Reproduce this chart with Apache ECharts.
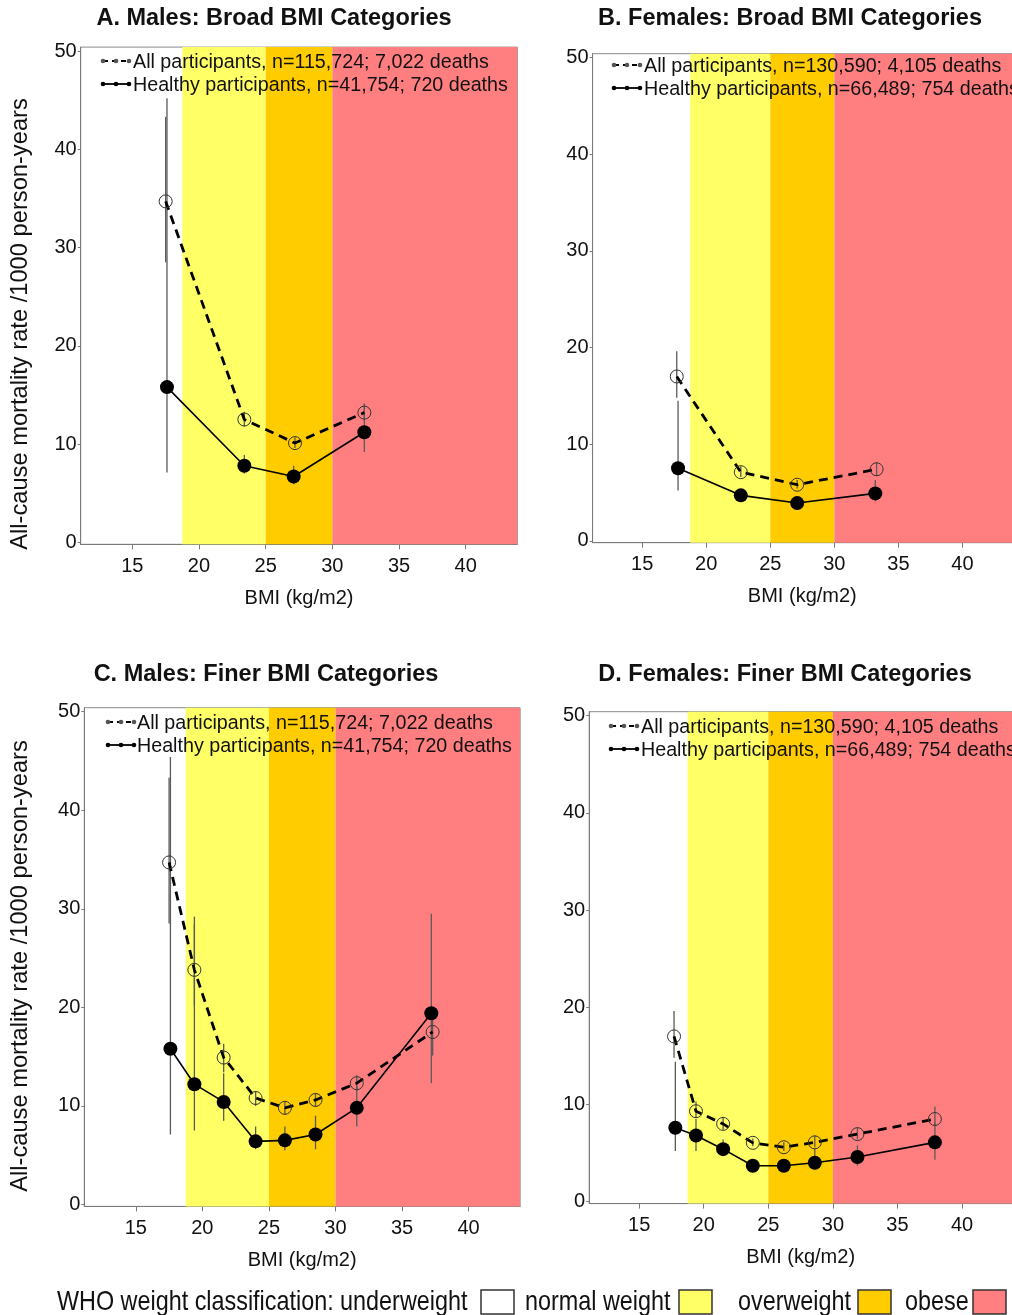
<!DOCTYPE html>
<html>
<head>
<meta charset="utf-8">
<script src="https://cdn.jsdelivr.net/npm/echarts@6/dist/echarts.min.js"></script>
<style>
  html, body { margin: 0; padding: 0; background: #fff; }
  #chart { width: 1012px; height: 1315px; }
</style>
</head>
<body>
<div id="chart"></div>
<script>
// ---------------- DATA ----------------
const xTicks = [15, 20, 25, 30, 35, 40];
const yTicks = [0, 10, 20, 30, 40, 50];
const X_MIN = 11.13, X_MAX = 43.87, Y_MIN = -0.2, Y_MAX = 50.4;

// WHO classification bands (BMI start, end)
const bandStart = [18.75, 25, 30];
const bandEnd = [25, 30, X_MAX];
const bandNames = ['normal weight', 'overweight', 'obese'];

const titles = [
  'A. Males: Broad BMI Categories',
  'B. Females: Broad BMI Categories',
  'C. Males: Finer BMI Categories',
  'D. Females: Finer BMI Categories'
];
const legendAll = [
  'All participants, n=115,724; 7,022 deaths',
  'All participants, n=130,590; 4,105 deaths',
  'All participants, n=115,724; 7,022 deaths',
  'All participants, n=130,590; 4,105 deaths'
];
const legendHealthy = [
  'Healthy participants, n=41,754; 720 deaths',
  'Healthy participants, n=66,489; 754 deaths',
  'Healthy participants, n=41,754; 720 deaths',
  'Healthy participants, n=66,489; 754 deaths'
];
const yTitle = 'All-cause mortality rate /1000 person-years';
const xTitle = 'BMI (kg/m2)';

// Panel A: males, broad
const aAllX = [17.5, 23.4, 27.2, 32.4];
const aAllY = [34.7, 12.5, 10.1, 13.2];
const aAllLo = [28.5, 11.8, 9.6, 12.4];
const aAllHi = [43.3, 13.3, 10.7, 14.1];
const aHeaX = [17.6, 23.4, 27.1, 32.4];
const aHeaY = [15.8, 7.8, 6.7, 11.2];
const aHeaLo = [7.1, 7.0, 5.9, 9.2];
const aHeaHi = [45.2, 8.9, 7.8, 14.1];

// Panel B: females, broad
const bAllX = [17.7, 22.7, 27.1, 33.3];
const bAllY = [17.0, 7.1, 5.8, 7.4];
const bAllLo = [14.8, 6.6, 5.4, 6.7];
const bAllHi = [19.6, 7.7, 6.3, 8.1];
const bHeaX = [17.8, 22.7, 27.1, 33.2];
const bHeaY = [7.5, 4.7, 3.9, 4.9];
const bHeaLo = [5.2, 4.2, 3.5, 4.1];
const bHeaHi = [14.5, 5.3, 4.4, 6.3];

// Panel C: males, finer
const cAllX = [17.5, 19.4, 21.6, 24.0, 26.2, 28.5, 31.6, 37.3];
const cAllY = [34.7, 23.8, 14.9, 10.8, 9.8, 10.6, 12.3, 17.5];
const cAllLo = [28.5, 20.2, 13.4, 10.0, 9.1, 9.9, 11.5, 15.1];
const cAllHi = [43.3, 28.4, 16.3, 11.5, 10.5, 11.3, 13.1, 20.0];
const cHeaX = [17.6, 19.4, 21.6, 24.0, 26.2, 28.5, 31.6, 37.2];
const cHeaY = [15.8, 12.2, 10.4, 6.4, 6.5, 7.1, 9.8, 19.4];
const cHeaLo = [7.1, 7.5, 8.5, 5.6, 5.5, 5.6, 7.9, 12.3];
const cHeaHi = [45.4, 29.2, 13.3, 7.9, 7.9, 9.0, 12.0, 29.5];

// Panel D: females, finer
const dAllX = [17.7, 19.4, 21.5, 23.8, 26.2, 28.6, 31.9, 37.9];
const dAllY = [17.0, 9.3, 8.0, 6.05, 5.6, 6.1, 6.95, 8.5];
const dAllLo = [14.8, 8.6, 7.4, 5.7, 5.2, 5.6, 6.4, 7.8];
const dAllHi = [19.6, 10.3, 8.6, 6.5, 6.1, 6.8, 7.6, 9.8];
const dHeaX = [17.8, 19.4, 21.5, 23.8, 26.2, 28.6, 31.9, 37.9];
const dHeaY = [7.6, 6.8, 5.4, 3.7, 3.7, 4.0, 4.6, 6.1];
const dHeaLo = [5.2, 5.2, 4.8, 3.4, 3.4, 3.7, 3.7, 4.3];
const dHeaHi = [14.4, 8.5, 6.4, 4.1, 4.1, 5.5, 5.8, 8.2];

const whoLabels = ['WHO weight classification: underweight', 'normal weight', 'overweight', 'obese'];

// ---------------- LAYOUT / STYLE ----------------
const FONT = '"Liberation Sans", Arial, sans-serif';
const bandColors = ['#FFFF66', '#FFCC00', '#FF7F80'];
const whoColors = ['#FFFFFF', '#FFFF66', '#FFCC00', '#FF7F80'];

const panels = [
  { grid: { left: 80.7, top: 47.1, width: 436.6, height: 497.2 },
    all: [aAllX, aAllY, aAllLo, aAllHi], hea: [aHeaX, aHeaY, aHeaLo, aHeaHi],
    title: [274, 19], legIcon: 103, legText: 133, legY: [63, 86], yTitle: [20, 324] },
  { grid: { left: 592.6, top: 53.7, width: 428.8, height: 489 },
    all: [bAllX, bAllY, bAllLo, bAllHi], hea: [bHeaX, bHeaY, bHeaLo, bHeaHi],
    title: [790, 19], legIcon: 614, legText: 644, legY: [67, 90] },
  { grid: { left: 84.3, top: 707.7, width: 435.8, height: 498.7 },
    all: [cAllX, cAllY, cAllLo, cAllHi], hea: [cHeaX, cHeaY, cHeaLo, cHeaHi],
    title: [266, 675], legIcon: 108, legText: 137, legY: [724, 747], yTitle: [20, 966] },
  { grid: { left: 589.2, top: 711.7, width: 430, height: 491.9 },
    all: [dAllX, dAllY, dAllLo, dAllHi], hea: [dHeaX, dHeaY, dHeaLo, dHeaHi],
    title: [785, 675], legIcon: 611, legText: 641, legY: [728, 751] }
];

const zip = (xs, ys) => xs.map((x, i) => [x, ys[i]]);
const zip3 = (xs, lo, hi) => xs.map((x, i) => [x, lo[i], hi[i]]);

const grids = [], xAxes = [], yAxes = [], series = [], graphics = [];

panels.forEach((p, k) => {
  grids.push(Object.assign({ show: true, borderColor: '#8a8a8a', borderWidth: 1, backgroundColor: '#fff' }, p.grid));
  xAxes.push({
    type: 'value', gridIndex: k, min: X_MIN, max: X_MAX,
    axisLine: { show: true, onZero: false, lineStyle: { color: '#7a7a7a', width: 1 } },
    axisTick: { show: true, length: 5, customValues: xTicks, lineStyle: { color: '#7a7a7a' } },
    axisLabel: { customValues: xTicks, color: '#111', fontSize: 20, fontFamily: FONT, margin: 12 },
    splitLine: { show: false },
    name: xTitle, nameLocation: 'middle', nameGap: 44,
    nameTextStyle: { color: '#111', fontSize: 20, fontFamily: FONT }
  });
  yAxes.push({
    type: 'value', gridIndex: k, min: Y_MIN, max: Y_MAX,
    axisLine: { show: true, onZero: false, lineStyle: { color: '#7a7a7a', width: 1 } },
    axisTick: { show: true, length: 3, customValues: yTicks, lineStyle: { color: '#7a7a7a' } },
    axisLabel: { customValues: yTicks, color: '#111', fontSize: 20, fontFamily: FONT, margin: 4 },
    splitLine: { show: false }
  });

  // background bands
  series.push({
    type: 'custom', xAxisIndex: k, yAxisIndex: k, z: 1, silent: true,
    data: bandStart.map((s, i) => [s, bandEnd[i], i]),
    renderItem: (params, api) => {
      const p0 = api.coord([api.value(0), Y_MAX]);
      const p1 = api.coord([api.value(1), Y_MIN]);
      return { type: 'rect', shape: { x: p0[0], y: p0[1], width: p1[0] - p0[0], height: p1[1] - p0[1] },
               style: { fill: bandColors[api.value(2)] } };
    }
  });

  // error bars
  [p.all, p.hea].forEach((d) => {
    series.push({
      type: 'custom', xAxisIndex: k, yAxisIndex: k, z: 3, silent: true,
      data: zip3(d[0], d[2], d[3]),
      renderItem: (params, api) => {
        const a = api.coord([api.value(0), api.value(1)]);
        const b = api.coord([api.value(0), api.value(2)]);
        return { type: 'line', shape: { x1: a[0], y1: a[1], x2: b[0], y2: b[1] },
                 style: { stroke: '#5a5a5a', lineWidth: 1.3 } };
      }
    });
  });

  // all participants: dashed line, open circles
  series.push({
    type: 'line', xAxisIndex: k, yAxisIndex: k, z: 4, name: legendAll[k],
    data: zip(p.all[0], p.all[1]),
    symbol: 'circle', symbolSize: 13,
    itemStyle: { color: 'rgba(0,0,0,0)', borderColor: '#333', borderWidth: 1 },
    lineStyle: { color: '#000', width: 2.8, type: [9, 6] },
    animation: false
  });
  // healthy participants: solid line, filled circles
  series.push({
    type: 'line', xAxisIndex: k, yAxisIndex: k, z: 5, name: legendHealthy[k],
    data: zip(p.hea[0], p.hea[1]),
    symbol: 'circle', symbolSize: 14,
    itemStyle: { color: '#000' },
    lineStyle: { color: '#000', width: 1.6 },
    animation: false
  });

  // titles
  graphics.push({ type: 'text', x: p.title[0], y: p.title[1], z: 20,
    style: { text: titles[k], font: 'bold 23.5px ' + FONT, fill: '#111', textAlign: 'center', textVerticalAlign: 'middle' } });

  // in-plot legend
  const ix = p.legIcon;
  [0, 1].forEach((r) => {
    const y = p.legY[r] - 2;
    graphics.push({ type: 'line', z: 20, shape: { x1: ix, y1: y, x2: ix + 26, y2: y },
      style: { stroke: '#000', lineWidth: r === 0 ? 2 : 1.8, lineDash: r === 0 ? [5, 4] : null } });
    [0, 13, 26].forEach((dx) => {
      graphics.push({ type: 'circle', z: 21, shape: { cx: ix + dx, cy: y, r: 2.3 },
        style: { fill: r === 0 ? '#555' : '#000' } });
    });
    graphics.push({ type: 'text', x: p.legText, y: p.legY[r], z: 20,
      style: { text: r === 0 ? legendAll[k] : legendHealthy[k], font: '19.7px ' + FONT, fill: '#111',
               textAlign: 'left', textVerticalAlign: 'middle' } });
  });

  if (p.yTitle) {
    graphics.push({ type: 'text', x: p.yTitle[0], y: p.yTitle[1], rotation: Math.PI / 2, z: 20,
      style: { text: yTitle, font: '23.7px ' + FONT, fill: '#111', textAlign: 'center', textVerticalAlign: 'middle' } });
  }
});

// bottom WHO legend (condensed text)
const whoTextX = [57, 525, 738, 905];
const whoBoxX = [481, 679, 858, 973];
whoLabels.forEach((t, i) => {
  graphics.push({ type: 'text', x: whoTextX[i], y: 1302, z: 20, scaleX: 0.82,
    style: { text: t, font: '28.5px ' + FONT, fill: '#111',
             textAlign: 'left', textVerticalAlign: 'middle' } });
  graphics.push({ type: 'rect', z: 20, shape: { x: whoBoxX[i], y: 1290, width: 33, height: 24 },
    style: { fill: whoColors[i], stroke: '#333', lineWidth: 1.5 } });
});

const chart = echarts.init(document.getElementById('chart'), null, { renderer: 'canvas' });
chart.setOption({
  backgroundColor: '#fff',
  animation: false,
  grid: grids,
  xAxis: xAxes,
  yAxis: yAxes,
  series: series,
  graphic: graphics
});
</script>
</body>
</html>
